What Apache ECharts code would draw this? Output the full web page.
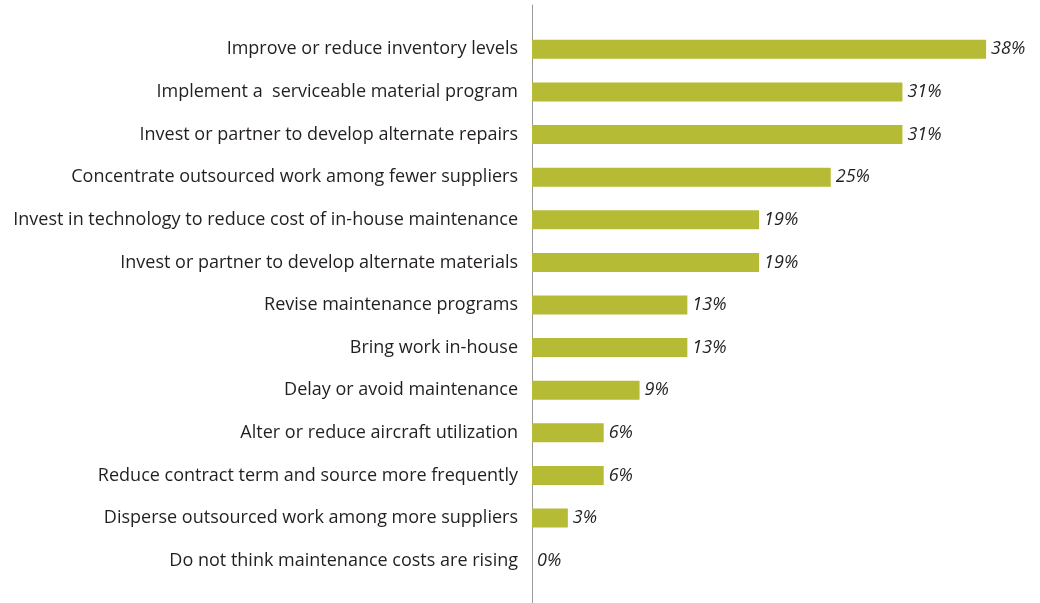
<!DOCTYPE html>
<html><head><meta charset="utf-8">
<script src="https://cdn.jsdelivr.net/npm/echarts@6/dist/echarts.min.js"></script>
<style>html,body{margin:0;padding:0;background:#fff}#c{width:1040px;height:603px}</style>
</head><body><div id="c"></div>
<script>
const categories = [
  "Improve or reduce inventory levels",
  "Implement a  serviceable material program",
  "Invest or partner to develop alternate repairs",
  "Concentrate outsourced work among fewer suppliers",
  "Invest in technology to reduce cost of in-house maintenance",
  "Invest or partner to develop alternate materials",
  "Revise maintenance programs",
  "Bring work in-house",
  "Delay or avoid maintenance",
  "Alter or reduce aircraft utilization",
  "Reduce contract term and source more frequently",
  "Disperse outsourced work among more suppliers",
  "Do not think maintenance costs are rising"
];
const values = [38, 31, 31, 25, 19, 19, 13, 13, 9, 6, 6, 3, 0];

const FONT = "Open Sans";
const chart = echarts.init(document.getElementById('c'), null, {renderer: 'canvas'});
chart.setOption({
  animation: false,
  grid: [
    {left: 532, top: 28, bottom: 21, width: 478, containLabel: false},
    {left: 532, top: 5, bottom: 0, width: 478, containLabel: false}
  ],
  xAxis: [
    {type: 'value', gridIndex: 0, min: 0, max: 40, show: false},
    {type: 'value', gridIndex: 1, min: 0, max: 40, show: false}
  ],
  yAxis: [
    {
      type: 'category', gridIndex: 0, inverse: true, data: categories,
      axisLine: {show: false}, axisTick: {show: false},
      axisLabel: {color: '#231f20', fontSize: 18, fontFamily: FONT, margin: 14}
    },
    {
      type: 'category', gridIndex: 1, data: [''],
      axisLine: {show: true, lineStyle: {color: '#9a9a9a', width: 1}},
      axisTick: {show: false}, axisLabel: {show: false}
    }
  ],
  series: [{
    type: 'bar', xAxisIndex: 0, yAxisIndex: 0,
    data: values, barWidth: 19,
    itemStyle: {color: '#b5bb35'},
    label: {
      show: true, position: 'right', distance: 5,
      formatter: p => p.value + '%',
      color: '#231f20', fontSize: 18, fontStyle: 'italic', fontFamily: FONT
    }
  }]
});
</script></body></html>
